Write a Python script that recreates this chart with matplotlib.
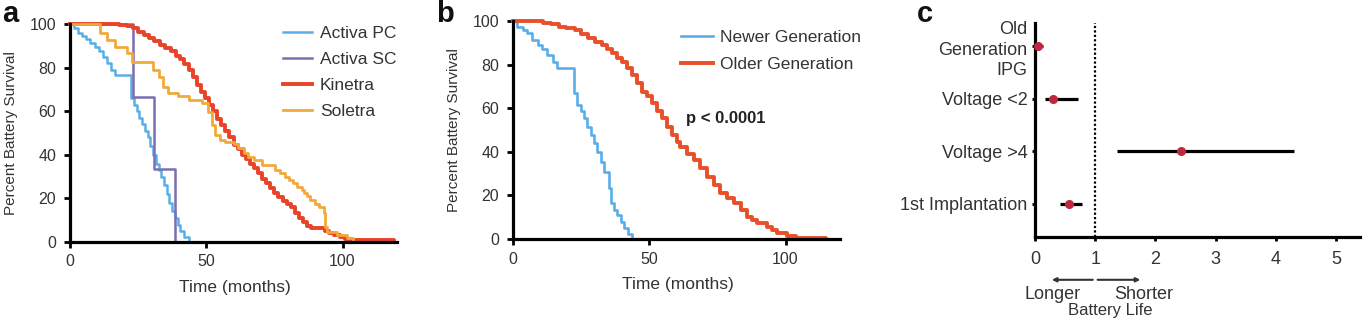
import numpy as np
import matplotlib
matplotlib.use("Agg")
import matplotlib.pyplot as plt

plt.rcParams['font.family'] = ['Liberation Sans', 'DejaVu Sans']

# ---- panel a: survival by device (months, percent) ----
pc_t = [0, 1.5, 3, 4.5, 6, 7.5, 9, 10.5, 12, 13.5, 15, 16.5, 22.5, 23.5, 24.5, 25.5,
        26.5, 27.5, 28.5, 29.5, 30.5, 31.5, 32.5, 33.5, 34.5, 35.5, 36.5, 37.5,
        38.5, 39.5, 40.5, 42, 43.5]
pc_s = [100, 98, 96, 94.5, 93, 91.5, 89.5, 87.5, 85, 82, 79, 76.5, 66, 63, 60, 57,
        54, 51, 48, 44, 40, 36, 33, 30, 26, 22, 18, 14, 11, 8, 5, 2.5, 0]

sc_t = [0, 23, 31, 38.5]
sc_s = [100, 66.7, 33.3, 0]

kin_t = [0, 18, 21, 23, 25, 27, 29, 31, 33, 35, 37, 39, 40.5, 42, 43.5, 45, 46.5, 48,
         49.5, 51, 52.5, 54, 55.5, 57, 58.5, 60, 61.5, 63, 64.5, 66, 67.5, 69, 70.5,
         72, 73.5, 75, 76.5, 78, 79.5, 81, 82.5, 84, 85.5, 87, 88.5, 93.5, 95, 97,
         99, 101, 103, 119]
kin_s = [100, 99.5, 99, 98, 96.5, 95, 93.5, 92, 90.5, 89, 87.5, 85.5, 84, 81.5, 79,
         75.5, 72, 69, 66, 63, 60, 56.5, 53.5, 51, 48, 44.5, 42.5, 40, 38, 36, 34,
         31.5, 29, 27, 25, 22.5, 20.5, 19, 17.5, 16, 13.5, 11, 9, 7.5, 6.3, 5, 4, 3,
         2.4, 1.5, 0.8, 0]

sol_t = [0, 11, 13.5, 16.5, 20.8, 22.7, 30.6, 32.5, 34.3, 36.1, 39.8, 43.5, 48.4,
         50.8, 52.1, 53.3, 55, 57, 60, 61.5, 63.7, 65.5, 67.4, 70.5, 75.4, 77.2,
         78.8, 80.3, 81.8, 83.3, 85, 85.8, 87, 88.2, 90, 91.3, 93.1, 93.7, 94.4, 98,
         101.7, 104]
sol_s = [100, 95.7, 92.7, 89.6, 86.5, 82.7, 79, 75.8, 71.3, 68.2, 67, 65, 63.6,
         59.8, 53.7, 49, 47, 46, 45, 43, 40.7, 39, 37.6, 35.3, 33, 31.5, 30, 28.4,
         27, 25.4, 24, 22.3, 21, 19.3, 17.5, 16.2, 13.1, 7, 4.7, 3.2, 1.7, 0]

# ---- panel b: newer vs older generation ----
new_t = [0, 1.6, 3.5, 5.3, 7, 9, 10.8, 12.6, 14.5, 16.3, 22.4, 23.6, 24.8, 26, 27.2,
         28.5, 29.7, 30.9, 32.2, 33.4, 35.2, 35.8, 37, 38.3, 39.5, 40.8, 42.3, 43.8]
new_s = [100, 97.4, 96, 94.3, 91.5, 89, 87, 84.4, 81, 78.3, 67, 61.5, 58.5, 55.4,
         51.5, 47.7, 44, 40, 35.5, 30.9, 23.3, 16.4, 13.5, 11, 8, 4.9, 2.5, 0]

old_t = [0, 11, 14, 16.7, 19.5, 22.8, 25, 27.7, 30, 32.6, 34.5, 36.3, 38, 39.9, 41.8,
         43.6, 45.5, 47.3, 49, 51, 52.8, 54.7, 56.5, 58.3, 60, 61.4, 63.8, 66.3,
         68.8, 71.2, 73.6, 76.1, 78.5, 81, 83.5, 85.9, 87.7, 89.6, 93.3, 95, 97,
         100.6, 104, 115]
old_s = [100, 99.3, 98.5, 97.4, 96.7, 95.9, 94, 92, 90.5, 89, 87, 85.2, 83.2, 81.3,
         78.5, 75.2, 71.4, 67.6, 65.5, 62.2, 58.8, 55.4, 51.5, 47.7, 44.5, 42.3,
         39.2, 36.2, 32.4, 28.6, 24.8, 21, 18.7, 16.4, 13.3, 10.2, 8.7, 7.2, 5.6, 4,
         2.6, 1.4, 0.6, 0]

# ---- panel c: hazard ratios ----
factors = ['Old\nGeneration\nIPG', 'Voltage <2', 'Voltage >4', '1st Implantation']
hr = [0.05, 0.3, 2.42, 0.56]
ci_low = [0.0, 0.16, 1.37, 0.41]
ci_high = [0.13, 0.72, 4.3, 0.78]

W, H = 1363, 321
fig = plt.figure(figsize=(W / 100, H / 100), dpi=100)


def px_axes(left, top, right, bottom):
    return fig.add_axes([left / W, 1 - bottom / H, (right - left) / W, (bottom - top) / H])


text_col = '#333333'


def style(ax, tick_size):
    for side in ['top', 'right']:
        ax.spines[side].set_visible(False)
    for side in ['left', 'bottom']:
        ax.spines[side].set_linewidth(2.3)
    ax.tick_params(width=2, length=4, labelsize=tick_size, colors='black',
                   labelcolor=text_col, pad=5)


def km_axes(ax):
    style(ax, 11.5)
    ax.tick_params(axis='y', pad=6)
    ax.set_xlim(0, 120)
    ax.set_ylim(0, 100)
    ax.set_xticks([0, 50, 100])
    ax.set_yticks([0, 20, 40, 60, 80, 100])
    ax.set_xlabel('Time (months)', fontsize=12.5, color=text_col)
    ax.set_ylabel('Percent Battery Survival', fontsize=11, color=text_col)
    ax.xaxis.set_label_coords(0.505, -0.175)
    ax.yaxis.set_label_coords(-0.16, 0.5)
    for sp in ax.spines.values():
        sp.set_clip_on(False)


# panel a
ax1 = px_axes(70, 24, 397, 242)
km_axes(ax1)
ax1.step(pc_t, pc_s, where='post', color='#5aaee8', lw=1.8, label='Activa PC', clip_on=False)
ax1.step(sc_t, sc_s, where='post', color='#7a6fb0', lw=1.8, label='Activa SC', clip_on=False)
ax1.step(kin_t, kin_s, where='post', color='#e8442a', lw=2.8, label='Kinetra', clip_on=False)
ax1.step(sol_t, sol_s, where='post', color='#f2a93b', lw=2.0, label='Soletra', clip_on=False)
ax1.legend(loc='upper left', bbox_to_anchor=(0.65, 0.993), frameon=False, fontsize=12.5,
           borderpad=0, borderaxespad=0, handlelength=1.7, handletextpad=0.45,
           labelspacing=0.63, labelcolor=text_col)

# panel b
ax2 = px_axes(513, 21, 840, 239)
km_axes(ax2)
ax2.step(new_t, new_s, where='post', color='#5aaee8', lw=1.9, label='Newer Generation', clip_on=False)
ax2.step(old_t, old_s, where='post', color='#e8502a', lw=2.8, label='Older Generation', clip_on=False)
ax2.legend(loc='upper left', bbox_to_anchor=(0.515, 0.96), frameon=False, fontsize=12.5,
           borderpad=0, borderaxespad=0, handlelength=1.8, handletextpad=0.45,
           labelspacing=0.68, labelcolor=text_col)
ax2.text(78, 55.5, 'p < 0.0001', fontsize=12, fontweight='bold', color='#222222',
         ha='center', va='center')

# panel c
ax3 = px_axes(1035, 23, 1360, 237)
style(ax3, 13)
ypos = np.arange(len(factors))
ax3.hlines(ypos, ci_low, ci_high, color='black', lw=2.3, zorder=2)
ax3.plot(hr, ypos, 'o', color='#c0283f', ms=5.5, zorder=3, clip_on=False)
ax3.axvline(1, color='black', lw=1.6, ls=(0, (1, 1)), zorder=1)
ax3.set_xlim(0, 5.4)
ax3.set_ylim(3.63, -0.44)
ax3.set_xticks([0, 1, 2, 3, 4, 5])
ax3.set_yticks(ypos)
ax3.set_yticklabels(factors, linespacing=1.3, color=text_col, fontsize=13)
ax3.tick_params(axis='y', length=2.5, pad=3)
ax3.tick_params(axis='x', length=3, pad=7)

tr = ax3.get_xaxis_transform()
ax3.annotate('', xy=(0.28, -0.2), xytext=(0.96, -0.2), xycoords=tr, textcoords=tr,
             arrowprops=dict(arrowstyle='-|>', color='#333333', lw=1.5,
                             mutation_scale=6, shrinkA=0, shrinkB=0),
             annotation_clip=False)
ax3.annotate('', xy=(1.75, -0.2), xytext=(1.04, -0.2), xycoords=tr, textcoords=tr,
             arrowprops=dict(arrowstyle='-|>', color='#333333', lw=1.5,
                             mutation_scale=6, shrinkA=0, shrinkB=0),
             annotation_clip=False)
ax3.text(0.3, -0.27, 'Longer', transform=tr, ha='center', va='center', fontsize=13,
         color=text_col, clip_on=False)
ax3.text(1.8, -0.27, 'Shorter', transform=tr, ha='center', va='center', fontsize=13,
         color=text_col, clip_on=False)
ax3.text(1.25, -0.345, 'Battery Life', transform=tr, ha='center', va='center',
         fontsize=12, color=text_col, clip_on=False)

# panel letters
for x, lab in [(10, 'a'), (445, 'b'), (925, 'c')]:
    fig.text(x / W, 1 - 14 / H, lab, fontsize=21, fontweight='bold', ha='center',
             va='center', color='#111111')

fig.savefig('out.png', dpi=100)
